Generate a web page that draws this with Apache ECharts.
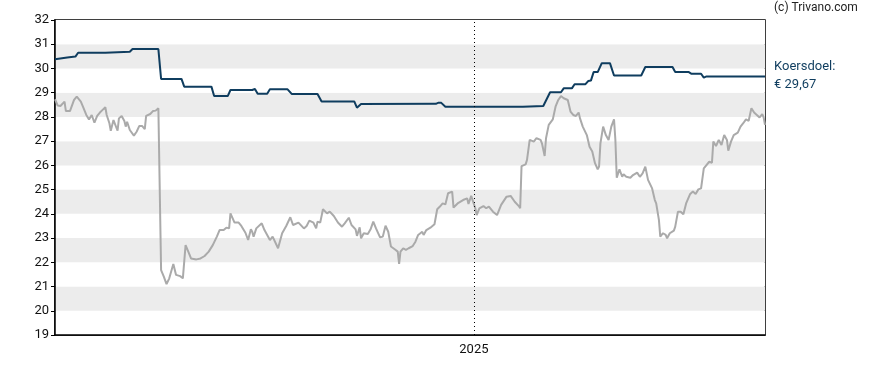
<!DOCTYPE html>
<html>
<head>
<meta charset="utf-8">
<script src="https://cdn.jsdelivr.net/npm/echarts@6/dist/echarts.min.js"></script>
<style>
html,body{margin:0;padding:0;background:#fff;}
#chart{width:888px;height:370px;}
</style>
</head>
<body>
<div id="chart"></div>
<script>
// x values are days since 2024-02-28; day 308 = 2025-01-01
const startLabel = '2024-02-28';
const yearMarkDay = 308;
const yearMarkLabel = '2025';
const lastDay = 522;

const priceDays = [0,2,4,7,8,11,12,14,16,19,21,23,25,27,29,31,33,35,37,38,40,41,43,44,46,47,49,51,52,53,55,58,60,62,64,66,67,70,72,74,76,77,
78,80,82,84,87,89,92,94,96,98,100,104,107,110,113,116,119,121,124,126,128,129,132,135,137,140,142,144,145,146,148,152,154,158,160,164,167,170,173,175,179,
183,185,187,190,192,193,195,197,200,202,205,208,211,213,216,218,221,222,224,225,227,230,232,234,236,239,241,243,245,247,250,252,253,254,256,258,260,263,265,267,270,271,273,276,279,
281,283,285,287,289,292,293,296,300,303,304,306,309,310,312,315,317,319,322,325,328,332,335,338,341,342,
343,346,347,349,352,354,357,358,360,361,363,366,368,370,372,374,375,377,379,381,383,385,386,388,391,393,395,397,399,400,401,403,405,407,409,411,412,
413,415,417,418,420,423,425,428,430,432,434,436,439,441,442,444,445,447,449,450,452,455,456,458,460,462,464,467,469,471,473,475,477,478,481,483,484,486,488,490,492,494,495,497,499,502,504,506,508,510,512,514,516,518,520,521,522];

const priceVals = [28.73,28.47,28.45,28.63,28.24,28.24,28.22,28.70,28.84,28.63,28.36,28.08,27.90,28.08,27.76,28.04,28.18,28.29,28.40,28.08,27.74,27.43,27.87,27.80,27.43,27.94,28.04,27.83,27.60,27.80,27.46,27.23,27.39,27.63,27.63,27.50,28.04,28.12,28.24,28.26,28.36,28.38,
21.68,21.41,21.10,21.34,21.93,21.48,21.43,21.34,22.71,22.44,22.16,22.12,22.16,22.26,22.44,22.71,23.06,23.33,23.33,23.43,23.40,24.02,23.64,23.64,23.50,23.22,22.92,23.36,23.26,23.06,23.40,23.61,23.33,22.92,23.06,22.58,23.20,23.50,23.86,23.54,23.64,
23.40,23.50,23.72,23.64,23.40,23.68,23.64,24.19,24.02,24.09,23.91,23.64,23.47,23.61,23.84,23.54,23.36,23.09,23.44,22.99,23.20,23.17,23.36,23.68,23.40,23.03,23.06,23.51,23.26,22.65,22.53,22.44,21.93,22.44,22.58,22.51,22.58,22.67,22.85,23.13,23.26,23.13,23.33,23.43,23.57,
24.19,24.30,24.43,24.39,24.85,24.92,24.26,24.43,24.57,24.64,24.41,24.74,24.23,23.95,24.23,24.32,24.23,24.30,24.09,23.95,24.37,24.71,24.74,24.50,24.32,24.23,
25.97,26.04,26.22,27.05,26.98,27.12,27.05,26.91,26.39,27.12,27.67,27.90,28.42,28.70,28.86,28.77,28.84,28.70,28.22,28.08,28.04,28.18,27.94,27.60,27.25,26.77,26.57,26.09,25.84,25.95,26.91,27.60,27.25,27.05,27.60,27.90,27.05,
25.49,25.84,25.53,25.63,25.53,25.49,25.60,25.70,25.53,25.67,25.95,25.40,25.05,24.57,24.43,23.75,23.06,23.20,23.13,22.99,23.20,23.31,23.47,24.09,24.09,23.98,24.43,24.82,24.92,24.82,25.01,25.05,25.88,25.95,26.15,26.11,26.98,26.80,27.05,26.84,27.25,27.05,26.61,26.98,27.25,27.35,27.60,27.74,27.90,27.84,28.36,28.18,28.08,27.98,28.12,27.98,27.67];

const targetDays = [0,1,9,10,15,17,37,38,55,57,76,78,93,95,115,117,127,129,145,147,149,156,158,171,174,193,196,220,222,225,280,282,284,287,344,345,359,364,372,374,380,382,390,392,394,396,399,402,408,411,431,434,454,456,466,468,475,477,479,522];
const targetVals = [30.38,30.45,30.45,30.49,30.49,30.65,30.65,30.69,30.69,30.80,30.80,29.57,29.57,29.25,29.25,28.86,28.86,29.11,29.11,29.15,28.96,28.96,29.14,29.14,28.95,28.95,28.64,28.64,28.38,28.53,28.54,28.59,28.58,28.42,28.42,28.45,28.45,29.02,29.02,29.18,29.18,29.35,29.35,29.48,29.50,29.85,29.85,30.22,30.22,29.71,29.71,30.06,30.06,29.85,29.85,29.78,29.78,29.62,29.67,29.67];

const yMin = 19, yMax = 32;
const copyright = '(c) Trivano.com';
const targetTitle = 'Koersdoel:';
const targetText = '€ 29,67';

const zip = (a, b) => a.map((d, i) => [d, b[i]]);

const chart = echarts.init(document.getElementById('chart'), null, {renderer: 'canvas'});
const font = 'Roboto, "Noto Sans", Arial, sans-serif';
chart.setOption({
  animation: false,
  backgroundColor: '#fff',
  grid: {left: 55, right: 123, top: 20, bottom: 35, show: true, borderColor: '#000', borderWidth: 1.5, backgroundColor: 'transparent'},
  xAxis: {
    type: 'value', min: 0, max: lastDay, interval: yearMarkDay,
    axisLine: {show: true, lineStyle: {color: '#000', width: 1.5}},
    axisTick: {show: false},
    splitLine: {show: false},
    axisLabel: {
      color: '#111', fontSize: 13, fontFamily: font, margin: 8,
      formatter: v => (v === yearMarkDay ? yearMarkLabel : '')
    }
  },
  yAxis: {
    type: 'value', min: yMin, max: yMax, interval: 1,
    axisLine: {show: true, lineStyle: {color: '#000', width: 1.5}},
    axisTick: {show: true, length: 4, lineStyle: {color: '#000'}},
    splitLine: {show: false},
    splitArea: {show: true, areaStyle: {color: ['#ffffff', '#ececec']}},
    axisLabel: {color: '#111', fontSize: 13, fontFamily: font, margin: 6}
  },
  series: [
    {
      type: 'line', data: zip(priceDays, priceVals), showSymbol: false, symbol: 'none',
      lineStyle: {color: '#aaaaaa', width: 2}, z: 2,
      markLine: {
        silent: true, symbol: 'none', label: {show: false},
        lineStyle: {color: '#000', type: [1, 3], width: 1},
        data: [{xAxis: yearMarkDay}]
      }
    },
    {
      type: 'line', data: zip(targetDays, targetVals), showSymbol: false, symbol: 'none',
      lineStyle: {color: '#0f3d5f', width: 2}, z: 3
    }
  ],
  graphic: [
    {type: 'text', left: 774, top: 2, style: {text: copyright, fill: '#222', font: '12px ' + font}},
    {type: 'text', left: 774, top: 60, style: {text: targetTitle, fill: '#0f3d5f', font: '13px ' + font}},
    {type: 'text', left: 774, top: 78, style: {text: targetText, fill: '#0f3d5f', font: '13px ' + font}}
  ]
});
</script>
</body>
</html>
